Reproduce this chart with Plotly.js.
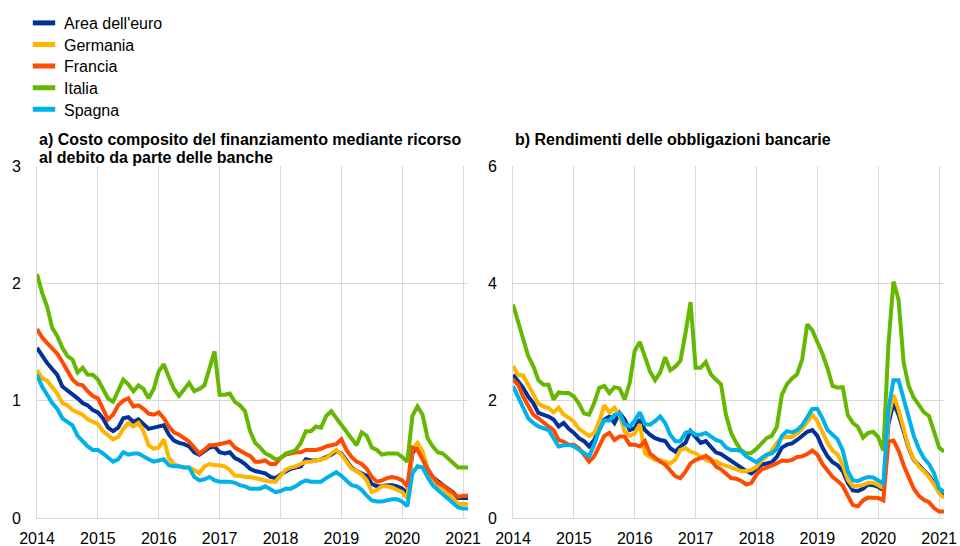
<!DOCTYPE html>
<html><head><meta charset="utf-8">
<script src="https://cdn.plot.ly/plotly-3.0.1.min.js"></script>
<style>html,body{margin:0;padding:0;background:#fff}#chart{width:960px;height:546px}</style>
</head><body><div id="chart"></div>
<script>
// ---- data ----
const startYear = 2014;
const nMonths = 86; // Jan 2014 .. Feb 2021 (monthly)
const months = Array.from({length: nMonths}, (_, i) => startYear + i / 12);
const yearTicks = [2014, 2015, 2016, 2017, 2018, 2019, 2020, 2021];
const yearLabels = ["2014", "2015", "2016", "2017", "2018", "2019", "2020", "2021"];
const seriesNames = ["Area dell'euro", "Germania", "Francia", "Italia", "Spagna"];
const seriesColors = ["#003299", "#FFB400", "#FF4B00", "#65B800", "#00B1EA"];
const titleA1 = "a) Costo composito del finanziamento mediante ricorso";
const titleA2 = "al debito da parte delle banche";
const titleB = "b) Rendimenti delle obbligazioni bancarie";
const yTicksA = [0, 1, 2, 3];
const yTicksB = [0, 2, 4, 6];

// panel a) composite cost of debt financing
const areaA = [1.45,1.38,1.32,1.27,1.22,1.12,1.09,1.06,1.02,0.98,0.96,0.92,0.90,0.85,0.77,0.74,0.77,0.85,0.86,0.82,0.84,0.80,0.76,0.77,0.78,0.79,0.71,0.66,0.64,0.63,0.61,0.56,0.54,0.57,0.60,0.61,0.56,0.55,0.56,0.51,0.49,0.46,0.42,0.40,
  0.39,0.38,0.35,0.34,0.37,0.40,0.42,0.43,0.44,0.50,0.49,0.49,0.50,0.52,0.54,0.57,0.55,0.49,0.43,0.40,0.38,0.36,0.29,0.27,0.27,0.28,0.28,0.27,0.25,0.21,0.55,0.62,0.55,0.42,0.35,0.31,0.28,0.25,0.22,0.17,0.17,0.17];
const germaniaA = [1.26,1.19,1.17,1.12,1.06,0.98,0.96,0.92,0.90,0.88,0.84,0.82,0.80,0.74,0.70,0.67,0.69,0.76,0.81,0.78,0.81,0.74,0.62,0.59,0.60,0.67,0.51,0.46,0.44,0.43,0.43,0.41,0.38,0.44,0.46,0.45,0.45,0.44,0.41,0.36,0.36,0.35,0.35,0.34,
  0.33,0.32,0.31,0.31,0.36,0.41,0.43,0.44,0.46,0.48,0.48,0.49,0.50,0.51,0.55,0.58,0.54,0.48,0.42,0.40,0.37,0.32,0.22,0.24,0.27,0.27,0.26,0.24,0.22,0.17,0.58,0.64,0.57,0.41,0.34,0.28,0.25,0.21,0.16,0.12,0.12,0.12];
const franciaA = [1.61,1.54,1.49,1.45,1.40,1.33,1.26,1.18,1.14,1.13,1.08,1.04,1.02,0.93,0.84,0.88,0.96,1.00,1.02,0.95,0.96,0.93,0.89,0.88,0.90,0.85,0.78,0.73,0.71,0.68,0.65,0.60,0.55,0.58,0.62,0.62,0.63,0.64,0.65,0.60,0.57,0.55,0.53,0.48,
  0.48,0.49,0.46,0.46,0.51,0.54,0.55,0.56,0.56,0.58,0.58,0.58,0.59,0.61,0.62,0.63,0.67,0.58,0.52,0.48,0.46,0.42,0.35,0.31,0.32,0.34,0.35,0.34,0.32,0.27,0.60,0.58,0.50,0.41,0.35,0.30,0.28,0.25,0.22,0.18,0.19,0.19];
const italiaA = [2.08,1.92,1.80,1.62,1.55,1.45,1.38,1.35,1.24,1.28,1.22,1.22,1.18,1.10,1.02,0.99,1.08,1.18,1.14,1.08,1.13,1.10,1.02,1.10,1.25,1.31,1.20,1.10,1.04,1.10,1.15,1.08,1.10,1.13,1.28,1.42,1.05,1.05,1.06,0.99,0.96,0.91,0.74,0.64,
  0.60,0.55,0.53,0.50,0.51,0.55,0.56,0.58,0.64,0.74,0.74,0.78,0.77,0.87,0.91,0.85,0.80,0.74,0.67,0.62,0.73,0.70,0.60,0.58,0.54,0.55,0.55,0.55,0.52,0.48,0.87,0.95,0.88,0.68,0.61,0.56,0.55,0.51,0.46,0.43,0.43,0.43];
const spagnaA = [1.22,1.12,1.05,0.98,0.93,0.85,0.82,0.79,0.70,0.65,0.61,0.58,0.58,0.55,0.52,0.48,0.50,0.56,0.54,0.55,0.55,0.52,0.50,0.48,0.49,0.50,0.45,0.44,0.44,0.43,0.43,0.35,0.32,0.33,0.35,0.32,0.31,0.31,0.31,0.30,0.28,0.27,0.25,0.25,
  0.25,0.27,0.24,0.22,0.23,0.25,0.25,0.27,0.30,0.32,0.31,0.31,0.31,0.34,0.37,0.39,0.36,0.32,0.28,0.27,0.24,0.19,0.15,0.14,0.14,0.15,0.16,0.16,0.14,0.10,0.38,0.44,0.43,0.35,0.28,0.24,0.20,0.16,0.12,0.09,0.08,0.08];

// panel b) bank bond yields
const areaB = [2.44,2.33,2.22,2.07,1.96,1.79,1.76,1.73,1.68,1.56,1.62,1.52,1.45,1.36,1.31,1.22,1.33,1.50,1.68,1.73,1.62,1.79,1.68,1.50,1.53,1.68,1.50,1.42,1.36,1.33,1.31,1.19,1.13,1.22,1.28,1.48,1.39,1.28,1.31,1.22,
  1.12,1.09,1.03,0.97,0.92,0.86,0.80,0.76,0.83,0.91,0.93,0.95,1.04,1.20,1.25,1.27,1.33,1.40,1.47,1.50,1.40,1.20,1.05,0.95,0.90,0.80,0.60,0.47,0.46,0.50,0.57,0.56,0.53,0.48,1.60,1.96,1.76,1.48,1.19,0.99,0.90,0.83,0.72,0.60,0.45,0.36];
const germaniaB = [2.59,2.44,2.43,2.28,2.13,1.95,1.90,1.88,1.80,1.88,1.76,1.71,1.64,1.52,1.46,1.40,1.45,1.65,1.92,1.80,1.88,1.75,1.48,1.40,1.44,1.60,1.10,1.05,0.99,0.99,0.96,0.93,1.00,1.16,1.19,1.13,1.10,1.05,0.99,0.96,
  0.97,0.92,0.89,0.85,0.82,0.80,0.80,0.82,0.87,0.98,1.05,1.15,1.28,1.37,1.38,1.38,1.44,1.52,1.64,1.76,1.65,1.45,1.28,1.15,1.08,0.90,0.65,0.54,0.55,0.56,0.60,0.60,0.56,0.51,1.70,2.10,1.85,1.50,1.20,1.00,0.88,0.80,0.70,0.57,0.42,0.34];
const franciaB = [2.36,2.27,2.07,1.90,1.76,1.70,1.62,1.56,1.50,1.33,1.30,1.25,1.25,1.19,1.08,0.96,1.05,1.24,1.40,1.45,1.33,1.39,1.39,1.25,1.25,1.22,1.31,1.10,1.02,0.96,0.91,0.82,0.71,0.68,0.79,0.93,0.99,1.02,1.06,1.00,
  0.88,0.83,0.76,0.68,0.67,0.63,0.57,0.60,0.74,0.83,0.86,0.89,0.93,0.98,0.97,0.99,1.04,1.05,1.09,1.15,1.08,0.92,0.80,0.70,0.63,0.55,0.38,0.22,0.20,0.30,0.35,0.35,0.34,0.30,1.30,1.32,1.15,0.90,0.68,0.50,0.38,0.31,0.27,0.17,0.11,0.11];
const italiaB = [3.64,3.36,3.07,2.76,2.59,2.35,2.27,2.27,2.02,2.14,2.13,2.13,2.07,1.95,1.78,1.76,1.96,2.22,2.25,2.13,2.23,2.21,2.02,2.30,2.85,3.00,2.75,2.50,2.35,2.48,2.74,2.52,2.58,2.68,3.15,3.68,2.56,2.56,2.66,2.45,
  2.36,2.28,1.75,1.45,1.28,1.15,1.10,1.11,1.18,1.28,1.36,1.40,1.55,2.10,2.28,2.38,2.45,2.70,3.30,3.20,3.00,2.80,2.55,2.25,2.22,2.23,1.75,1.62,1.55,1.37,1.45,1.47,1.38,1.15,2.95,4.03,3.72,2.65,2.25,2.05,1.93,1.80,1.74,1.45,1.20,1.13];
const spagnaB = [2.25,2.07,1.88,1.70,1.62,1.56,1.53,1.50,1.36,1.22,1.24,1.25,1.22,1.16,1.10,1.05,1.25,1.50,1.66,1.66,1.76,1.78,1.60,1.56,1.66,1.80,1.60,1.59,1.65,1.73,1.62,1.42,1.31,1.31,1.45,1.48,1.42,1.42,1.45,1.39,
  1.33,1.30,1.20,1.16,1.16,1.14,1.05,1.00,0.95,1.02,1.08,1.10,1.18,1.40,1.48,1.46,1.50,1.58,1.72,1.86,1.86,1.70,1.50,1.41,1.34,1.15,0.80,0.64,0.63,0.67,0.70,0.69,0.64,0.59,1.85,2.35,2.35,2.05,1.70,1.40,1.18,1.02,0.92,0.76,0.50,0.45];

const panelA = [areaA, germaniaA, franciaA, italiaA, spagnaA];
const panelB = [areaB, germaniaB, franciaB, italiaB, spagnaB];

// ---- chart ----
const FONT = "Liberation Sans, Arial, Helvetica, sans-serif";
const gridColor = "#d9d9d9";
const legendIds = ["legend", "legend2", "legend3", "legend4", "legend5"];
const traces = [];
seriesNames.forEach((name, k) => {
  traces.push({x: months, y: panelA[k], xaxis: "x", yaxis: "y", mode: "lines", name: name,
    line: {color: seriesColors[k], width: 4}, showlegend: false, hoverinfo: "skip"});
  traces.push({x: months, y: panelB[k], xaxis: "x2", yaxis: "y2", mode: "lines", name: name,
    line: {color: seriesColors[k], width: 4}, showlegend: false, hoverinfo: "skip"});
});
// legend entries (one small legend per entry, to control spacing)
seriesNames.forEach((name, k) => {
  traces.push({x: [null], y: [null], xaxis: "x", yaxis: "y", mode: "markers", name: name,
    legend: legendIds[k],
    marker: {symbol: "line-ew", size: 16, color: seriesColors[k], line: {color: seriesColors[k], width: 6}},
    showlegend: true, hoverinfo: "skip"});
});

const tickFont = {family: FONT, size: 16, color: "#000"};
function xAxis(domain, anchor) {
  return {domain: domain, anchor: anchor, range: [2014, 2021.08], tickmode: "array",
    tickvals: yearTicks, ticktext: yearLabels, showgrid: true, gridcolor: gridColor, gridwidth: 1,
    zeroline: false, showline: true, linecolor: gridColor, linewidth: 1, ticks: "",
    tickfont: tickFont, ticklabelstandoff: 6, fixedrange: true};
}
function yAxis(range, ticks, anchor) {
  return {domain: [1 - 518 / 546, 1 - 166 / 546], anchor: anchor, range: range, tickmode: "array",
    tickvals: ticks, ticktext: ticks.map(String), showgrid: true, gridcolor: gridColor, gridwidth: 1,
    zeroline: false, showline: true, linecolor: gridColor, linewidth: 1, ticks: "",
    tickfont: tickFont, ticklabelstandoff: 12, fixedrange: true};
}

const titleFont = {family: FONT, size: 16, color: "#000"};
const legendCenters = [22, 43.6, 65.2, 86.8, 108.4];
const layout = {
  width: 960, height: 546,
  margin: {l: 0, r: 0, t: 0, b: 0},
  paper_bgcolor: "#fff", plot_bgcolor: "#fff",
  showlegend: true,
  xaxis: xAxis([37 / 960, 468 / 960], "y"),
  yaxis: yAxis([0, 3], yTicksA, "x"),
  xaxis2: xAxis([513 / 960, 944 / 960], "y2"),
  yaxis2: yAxis([0, 6], yTicksB, "x2"),
  annotations: [
    {xref: "paper", yref: "paper", x: 37 / 960, y: 1 - 139 / 546, xanchor: "left", yanchor: "middle",
      text: "<b>" + titleA1 + "</b>", showarrow: false, font: titleFont, align: "left"},
    {xref: "paper", yref: "paper", x: 37 / 960, y: 1 - 157 / 546, xanchor: "left", yanchor: "middle",
      text: "<b>" + titleA2 + "</b>", showarrow: false, font: titleFont, align: "left"},
    {xref: "paper", yref: "paper", x: 513 / 960, y: 1 - 139 / 546, xanchor: "left", yanchor: "middle",
      text: "<b>" + titleB + "</b>", showarrow: false, font: titleFont, align: "left"}
  ]
};
legendIds.forEach((id, k) => {
  layout[id] = {x: 24 / 960, xanchor: "left", y: 1 - (legendCenters[k] - 16) / 546, yanchor: "top",
    font: {family: FONT, size: 16, color: "#000"}, bgcolor: "rgba(0,0,0,0)", borderwidth: 0,
    itemclick: false, itemdoubleclick: false};
});

Plotly.newPlot("chart", traces, layout, {staticPlot: true, displayModeBar: false});
</script>
</body></html>
